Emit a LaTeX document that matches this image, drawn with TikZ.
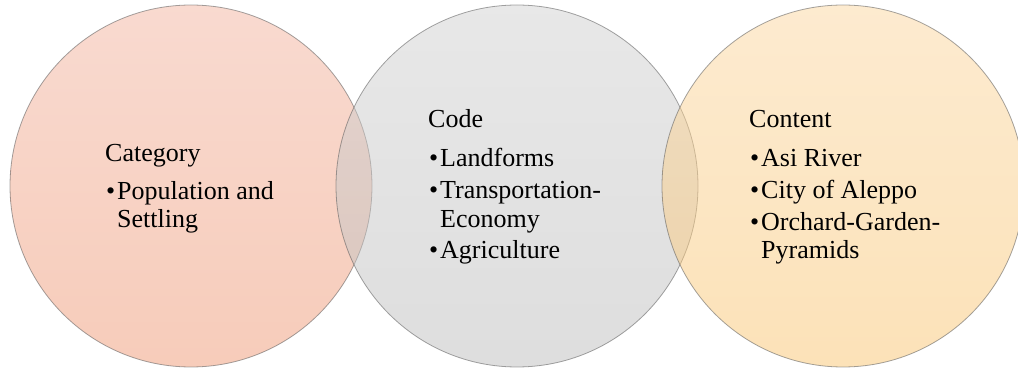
\documentclass[tikz,border=0pt]{standalone}
\usepackage{fontspec}
\setmainfont{Liberation Serif}
\definecolor{lTop}{RGB}{243,181,161}
\definecolor{lBot}{RGB}{239,153,117}
\definecolor{mTop}{RGB}{209,209,209}
\definecolor{mBot}{RGB}{189,189,189}
\definecolor{rTop}{RGB}{251,215,161}
\definecolor{rBot}{RGB}{249,197,113}
\definecolor{rim}{RGB}{90,90,90}
\begin{document}
\begin{tikzpicture}[x=1pt,y=-1pt,
  venn/.style={circle,minimum size=362pt,inner sep=0pt,fill opacity=0.5,draw=rim,draw opacity=0.55,line width=0.8pt},
  txt/.style={anchor=base west,inner sep=0pt,font=\fontsize{26}{29}\selectfont,text=black},
  bul/.style={anchor=base west,inner sep=0pt,font=\fontsize{26}{29}\selectfont,text=black}]
\useasboundingbox (0,0) rectangle (1018,371);
\clip (0,0) rectangle (1018,371);
\node[venn,top color=lTop,bottom color=lBot] (c1) at (191,186) {};
\node[venn,top color=mTop,bottom color=mBot] (c2) at (517,186) {};
\node[venn,top color=rTop,bottom color=rBot] (c3) at (843,186) {};
% left
\node[txt] (h1) at (105,162) {Category};
\node[bul] (b11) at (106,200) {•};
\node[txt] (i11) at (117,200) {Population and};
\node[txt] (i11b) at (117,228) {Settling};
% middle
\node[txt] (h2) at (428,128) {Code};
\node[bul] (b21) at (429,167) {•};
\node[txt] (i21) at (440,167) {Landforms};
\node[bul] (b22) at (429,199) {•};
\node[txt] (i22) at (440,199) {Transportation-};
\node[txt] (i22b) at (440,228) {Economy};
\node[bul] (b23) at (429,259) {•};
\node[txt] (i23) at (440,259) {Agriculture};
% right
\node[txt] (h3) at (749,128) {Content};
\node[bul] (b31) at (750,167) {•};
\node[txt] (i31) at (761,167) {Asi River};
\node[bul] (b32) at (750,199) {•};
\node[txt] (i32) at (761,199) {City of Aleppo};
\node[bul] (b33) at (750,231) {•};
\node[txt] (i33) at (761,231) {Orchard-Garden-};
\node[txt] (i33b) at (761,259) {Pyramids};
\end{tikzpicture}
\end{document}
